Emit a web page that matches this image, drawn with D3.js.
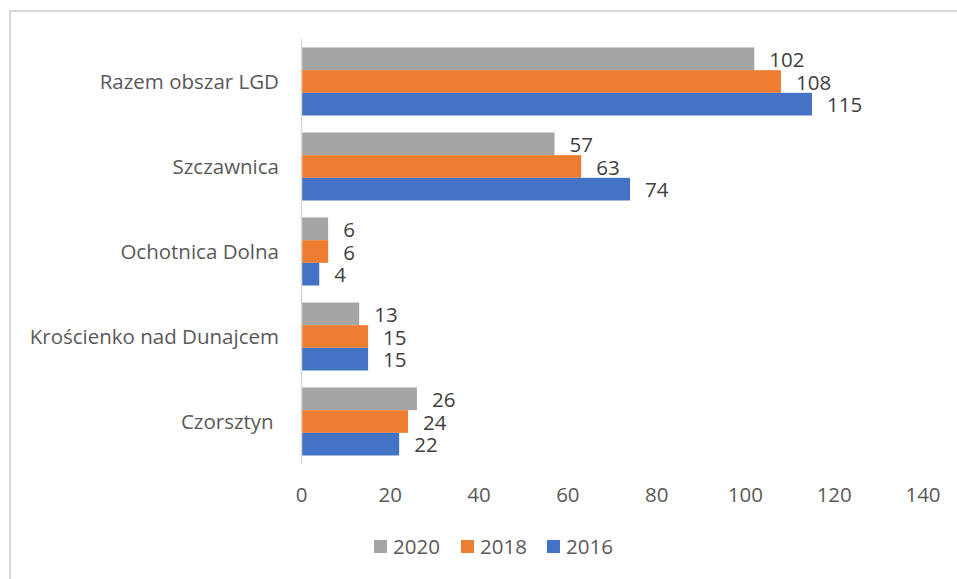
<!DOCTYPE html>
<html>
<head>
<meta charset="utf-8">
<script src="https://cdn.jsdelivr.net/npm/d3@7"></script>
<style>
  body { margin: 0; background: #fff; }
  text { font-family: "Open Sans", sans-serif; white-space: pre; }
</style>
</head>
<body>
<svg width="957" height="579"></svg>
<script>
// data
var categories = ['Razem obszar LGD', 'Szczawnica', 'Ochotnica Dolna', 'Krościenko nad Dunajcem', 'Czorsztyn '];
var years = ['2020', '2018', '2016'];
var values2020 = [102, 57, 6, 13, 26];
var values2018 = [108, 63, 6, 15, 24];
var values2016 = [115, 74, 4, 15, 22];
var xTicks = [0, 20, 40, 60, 80, 100, 120, 140];

var colors = {'2020': '#a5a5a5', '2018': '#ed7d31', '2016': '#4472c4'};
var series = {'2020': values2020, '2018': values2018, '2016': values2016};

var fontSize = '20.5px';

var svg = d3.select('svg');

// chart frame (runs off right / bottom like the screenshot)
svg.append('rect')
  .attr('x', 10).attr('y', 11)
  .attr('width', 1000).attr('height', 1000)
  .attr('fill', 'none')
  .attr('stroke', '#d9d9d9')
  .attr('stroke-width', 2);

var x = d3.scaleLinear().domain([0, 140]).range([301.5, 923]);
var y = d3.scaleBand().domain(categories).range([39, 464]).paddingInner(0.2).paddingOuter(0.1);
var inner = d3.scaleBand().domain(years).range([0, y.bandwidth()]);

var rows = [];
categories.forEach(function(c, i){
  years.forEach(function(yr){
    rows.push({cat: c, year: yr, value: series[yr][i]});
  });
});

svg.selectAll('.bar')
  .data(rows)
  .enter()
  .append('rect')
    .classed('bar', true)
    .attr('x', x(0))
    .attr('y', d => y(d.cat) + inner(d.year))
    .attr('width', d => x(d.value) - x(0))
    .attr('height', inner.bandwidth())
    .attr('fill', d => colors[d.year]);

svg.selectAll('.val')
  .data(rows)
  .enter()
  .append('text')
    .classed('val', true)
    .attr('x', d => x(d.value) + 15)
    .attr('y', d => y(d.cat) + inner(d.year) + inner.bandwidth() / 2 + 1)
    .attr('dy', '0.35em')
    .style('font-size', fontSize)
    .attr('fill', '#404040')
    .text(d => d.value);

// vertical axis line
svg.append('line')
  .attr('x1', x(0)).attr('x2', x(0))
  .attr('y1', 39).attr('y2', 464)
  .attr('stroke', '#d9d9d9')
  .attr('stroke-width', 1.5);

// category labels
svg.selectAll('.cat')
  .data(categories)
  .enter()
  .append('text')
    .classed('cat', true)
    .attr('x', 279)
    .attr('y', d => y(d) + y.bandwidth() / 2)
    .attr('dy', '0.35em')
    .style('text-anchor', 'end')
    .style('font-size', fontSize)
    .attr('fill', '#595959')
    .text(d => d);

// x tick labels
svg.selectAll('.tick-label')
  .data(xTicks)
  .enter()
  .append('text')
    .classed('tick-label', true)
    .attr('x', d => x(d))
    .attr('y', 495)
    .attr('dy', '0.35em')
    .style('text-anchor', 'middle')
    .style('font-size', fontSize)
    .attr('fill', '#595959')
    .text(d => d);

// legend
var legendX = {'2020': 374, '2018': 461, '2016': 547};
var legend = svg.selectAll('.legend')
  .data(years)
  .enter()
  .append('g')
    .classed('legend', true)
    .attr('transform', d => 'translate(' + legendX[d] + ', 547)');

legend.append('rect')
  .attr('x', 0).attr('y', -7)
  .attr('width', 13).attr('height', 13)
  .attr('fill', d => colors[d]);

legend.append('text')
  .attr('x', 19)
  .attr('y', 0)
  .attr('dy', '0.35em')
  .style('font-size', fontSize)
  .attr('fill', '#595959')
  .text(d => d);
</script>
</body>
</html>
